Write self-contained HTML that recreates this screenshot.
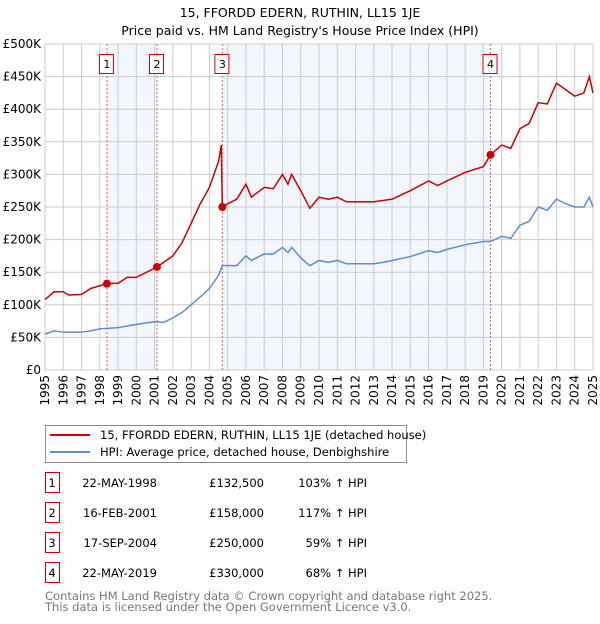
<!DOCTYPE html>
<html><head><meta charset="utf-8"><style>
body{margin:0;background:#fff;font-family:"DejaVu Sans","Liberation Sans",sans-serif;}
svg text{font-family:"DejaVu Sans","Liberation Sans",sans-serif;}
</style></head><body>
<svg id="c" width="600" height="620" xmlns="http://www.w3.org/2000/svg">
<text x="300" y="17" text-anchor="middle" font-size="12.5">15, FFORDD EDERN, RUTHIN, LL15 1JE</text>
<text x="300" y="35" text-anchor="middle" font-size="12.5">Price paid vs. HM Land Registry's House Price Index (HPI)</text>
<g id="plot"></g>
<g>
<rect x="45.5" y="425.5" width="361" height="37" fill="#fff" stroke="#888"/>
<line x1="50" y1="435" x2="90" y2="435" stroke="#cc0000" stroke-width="2"/>
<text x="100" y="439" font-size="11.5">15, FFORDD EDERN, RUTHIN, LL15 1JE (detached house)</text>
<line x1="50" y1="452" x2="90" y2="452" stroke="#5b8dd0" stroke-width="2"/>
<text x="100" y="456" font-size="11.5">HPI: Average price, detached house, Denbighshire</text>
</g>
<g id="table" font-size="11.5"></g>
<text x="45" y="600" font-size="11.5" fill="#777">Contains HM Land Registry data © Crown copyright and database right 2025.</text>
<text x="45" y="611" font-size="11.5" fill="#777">This data is licensed under the Open Government Licence v3.0.</text>
</svg>
<script>
const hpiYears=[1995,1995.5,1996,1997,1997.5,1998,1999,2000,2001,2001.5,2002,2002.5,2003,2003.5,2004,2004.5,2004.7,2005,2005.5,2006,2006.3,2007,2007.5,2008,2008.3,2008.5,2009,2009.5,2010,2010.5,2011,2011.5,2012,2013,2013.5,2014,2015,2016,2016.5,2017,2018,2019,2019.4,2020,2020.5,2021,2021.5,2022,2022.5,2023,2023.5,2024,2024.5,2024.8,2025];
const hpiValues=[55,60,58,58,60,63,65,70,74,73,80,88,100,112,125,145,160,160,160,175,168,178,178,188,180,188,172,160,168,165,168,163,163,163,165,168,174,183,180,185,192,197,197,205,202,222,228,250,245,262,255,250,250,265,250];
const priceYears=[1995,1995.5,1996,1996.3,1997,1997.5,1998.39,1999,1999.5,2000,2001.13,2002,2002.5,2003,2003.5,2004,2004.5,2004.65,2004.71,2005,2005.5,2006,2006.3,2007,2007.5,2008,2008.3,2008.5,2009,2009.5,2010,2010.5,2011,2011.5,2012,2013,2013.5,2014,2015,2016,2016.5,2017,2018,2019,2019.39,2020,2020.5,2021,2021.5,2022,2022.5,2023,2023.5,2024,2024.5,2024.8,2025];
const priceValues=[108,120,120,115,116,125,132.5,133,142,142,158,175,195,225,255,280,320,345,250,255,262,285,265,280,278,300,285,300,275,248,265,262,265,258,258,258,260,262,275,290,283,290,303,312,330,345,340,370,378,410,408,440,430,420,425,450,425];
const saleLabels=["1","2","3","4"];
const saleYears=[1998.39,2001.13,2004.71,2019.39];
const saleDates=["22-MAY-1998","16-FEB-2001","17-SEP-2004","22-MAY-2019"];
const salePrices=[132.5,158,250,330];
const salePriceText=["£132,500","£158,000","£250,000","£330,000"];
const saleHpiText=["103% ↑ HPI","117% ↑ HPI","59% ↑ HPI","68% ↑ HPI"];
const yTicks=[0,50,100,150,200,250,300,350,400,450,500];
const yTickLabels=["£0","£50K","£100K","£150K","£200K","£250K","£300K","£350K","£400K","£450K","£500K"];
const xTicks=[1995,1996,1997,1998,1999,2000,2001,2002,2003,2004,2005,2006,2007,2008,2009,2010,2011,2012,2013,2014,2015,2016,2017,2018,2019,2020,2021,2022,2023,2024,2025];

const NS="http://www.w3.org/2000/svg";
const X0=45,X1=593,Y0=370,Y1=44;
const xs=y=>X0+(y-1995)/30*(X1-X0);
const ys=v=>Y0-v/500*(Y0-Y1);
function mk(t,a,p){const e=document.createElementNS(NS,t);for(const k in a)e.setAttribute(k,a[k]);(p||document.getElementById('plot')).appendChild(e);return e;}
for(const [a,b] of [[0,1],[2,3]]){
 const r=mk('rect',{x:xs(saleYears[a]),y:Y1,width:xs(saleYears[b])-xs(saleYears[a]),height:Y0-Y1,fill:'#f3f6fd'});
 
 
}
yTicks.forEach((v,i)=>{
 const l=mk('line',{x1:X0,x2:X1,y1:ys(v),y2:ys(v),stroke:'#ccc'});
 
 
 const t=mk('text',{x:X0-4,y:ys(v)+4,'text-anchor':'end','font-size':'12'});
 t.textContent=yTickLabels[i];
 
 
});
xTicks.forEach(y=>{
 const l=mk('line',{x1:xs(y),x2:xs(y),y1:Y1,y2:Y0,stroke:'#ccc'});
 
 
 const t=mk('text',{x:0,y:0,'font-size':'12','text-anchor':'end',transform:`translate(${xs(y)+4},${Y0+5}) rotate(-90)`});
 t.textContent=y;
 
 
});
mk('rect',{x:X0,y:Y1,width:X1-X0,height:Y0-Y1,fill:'none',stroke:'#ccc'});
saleYears.forEach((y,i)=>{
 const l=mk('line',{x1:xs(y),x2:xs(y),y1:Y1,y2:Y0,stroke:'#f06060','stroke-dasharray':'2,2'});
 
 
 const b=mk('rect',{x:xs(y)-7.5,y:54.5,width:14,height:19,fill:'#fff',stroke:'#cc0000'});
 
 
 const t=mk('text',{x:xs(y),y:68,'text-anchor':'middle','font-size':'11'});
 t.textContent=saleLabels[i];
 
 
});
const hp=mk('polyline',{points:hpiYears.map((y,i)=>xs(y)+','+ys(hpiValues[i])).join(' '),fill:'none',stroke:'#5b8dd0','stroke-width':1.5});


const pp=mk('polyline',{points:priceYears.map((y,i)=>xs(y)+','+ys(priceValues[i])).join(' '),fill:'none',stroke:'#cc0000','stroke-width':1.5});


saleYears.forEach((y,i)=>{
 const c=mk('circle',{cx:xs(y),cy:ys(salePrices[i]),r:4,fill:'#cc0000'});
 
 
});
const tb=document.getElementById('table');
saleLabels.forEach((s,i)=>{
 const yy=483+i*30;
 const b=mk('rect',{x:45.5,y:yy-10.5,width:14,height:20,fill:'#fff',stroke:'#cc0000'},tb);
 
 
 const cells=[[52,s,'middle'],[157,saleDates[i],'end'],[264,salePriceText[i],'end'],[367,saleHpiText[i],'end']];
 cells.forEach(([x,txt,a])=>{
  const t=mk('text',{x:x,y:yy+4,'text-anchor':a},tb);
  t.textContent=txt;
  
  
 });
});
</script>
</body></html>
